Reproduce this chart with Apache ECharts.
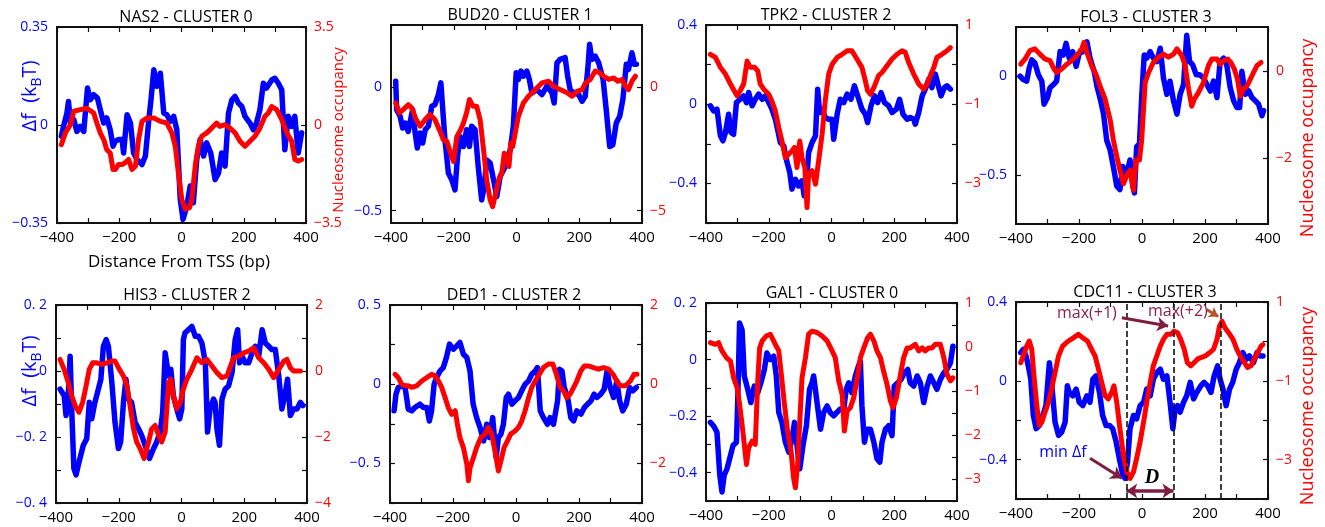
<!DOCTYPE html>
<html>
<head>
<meta charset="utf-8">
<script src="https://cdn.jsdelivr.net/npm/echarts@6/dist/echarts.min.js"></script>
<style>
  html, body { margin: 0; padding: 0; background: #fff; }
  #chart { width: 1325px; height: 527px; }
</style>
</head>
<body>
<div id="chart"></div>
<script>
// ---- gene panels ----
const GENES = ['NAS2', 'BUD20', 'TPK2', 'FOL3', 'HIS3', 'DED1', 'GAL1', 'CDC11'];
const CLUSTERS = [0, 1, 2, 3, 2, 2, 0, 3];

// ---- Δf (blue) and nucleosome occupancy (red) profiles, x = distance from TSS (bp) ----
const NAS2_DF_X = [-386,-379,-368,-363,-357,-346,-336,-325,-314,-302,-293,-282,-270,-261,-250,-240,-229,-220,-213,-202,-191,-186,-175,-164,-154,-143,-127,-116,-105,-98,-89,-79,-68,-57,-47,-36,-25,-15,-4,5,17,28,38,49,60,71,81,94,108,119,129,140,151,162,172,183,194,204,220,231,241,252,263,273,290,300,311,322,332,343,354,364,375,386];
const NAS2_DF_Y = [-0.040,-0.005,0.043,0.084,0.007,0.019,-0.023,-0.005,-0.023,0.132,0.090,0.108,0.096,0.055,0.007,0.025,-0.017,-0.076,-0.058,-0.052,-0.052,-0.100,0.037,0.007,-0.100,-0.123,-0.141,-0.111,0.019,0.090,0.197,0.138,0.185,0.043,0.037,0.013,0.031,-0.017,-0.266,-0.337,-0.289,-0.218,-0.278,-0.123,-0.052,-0.111,-0.064,-0.100,-0.195,-0.171,-0.100,-0.147,0.043,0.090,0.102,0.078,0.066,0.031,0.007,-0.017,0.007,0.055,0.149,0.132,0.161,0.167,0.149,0.126,-0.088,0.031,-0.005,0.031,-0.100,-0.028];
const NAS2_OCC_X = [-386,-373,-357,-346,-325,-304,-282,-272,-261,-250,-240,-229,-220,-213,-202,-191,-181,-170,-159,-148,-138,-127,-111,-89,-68,-47,-31,-20,-10,1,12,26,33,44,54,65,81,97,113,123,140,156,172,188,204,220,236,252,268,279,290,306,322,338,354,364,375,386];
const NAS2_OCC_Y = [-0.70,-0.28,0.01,0.49,0.55,0.60,0.43,0.07,-0.28,-0.52,-0.88,-1.00,-1.59,-1.59,-1.41,-1.41,-1.35,-1.23,-1.59,-1.47,-0.52,0.13,0.25,0.25,0.13,0.07,-0.28,-0.76,-1.71,-2.66,-3.01,-2.95,-2.66,-1.47,-0.76,-0.40,-0.28,-0.11,0.07,-0.05,0.01,-0.11,-0.28,-0.58,-0.76,-0.58,-0.40,-0.11,0.31,0.43,0.66,0.55,0.19,-0.28,-0.58,-1.23,-1.29,-1.23];

const BUD20_DF_X = [-385,-382,-371,-363,-355,-345,-331,-323,-316,-307,-299,-291,-281,-270,-260,-249,-241,-235,-228,-217,-206,-196,-188,-180,-169,-159,-150,-143,-132,-122,-111,-103,-95,-84,-73,-63,-52,-41,-31,-20,-10,-1,6,14,22,33,41,49,65,81,97,113,120,129,139,155,163,171,182,198,209,219,228,233,240,251,262,276,286,297,307,318,329,339,350,357,368,376,382];
const BUD20_DF_Y = [0.023,-0.092,-0.119,-0.166,-0.146,-0.180,-0.092,-0.186,-0.247,-0.186,-0.227,-0.173,-0.159,-0.078,-0.072,-0.031,0.016,-0.092,-0.214,-0.349,-0.376,-0.416,-0.281,-0.200,-0.241,-0.173,-0.241,-0.159,-0.173,-0.322,-0.457,-0.403,-0.295,-0.308,-0.376,-0.443,-0.362,-0.335,-0.308,-0.254,-0.159,0.057,0.030,0.064,0.043,0.064,0.030,-0.024,-0.011,-0.031,0.003,-0.024,-0.065,0.097,0.111,0.118,0.043,-0.011,-0.024,-0.031,-0.058,-0.038,0.084,0.172,0.111,0.124,0.097,0.030,-0.092,-0.241,-0.234,-0.146,-0.119,-0.051,0.091,0.070,0.138,0.091,0.091];
const BUD20_OCC_X = [-385,-373,-361,-345,-334,-320,-307,-291,-276,-260,-246,-233,-222,-210,-201,-190,-178,-169,-159,-150,-139,-127,-116,-105,-95,-84,-76,-66,-57,-47,-39,-31,-24,-18,-12,-4,6,22,38,60,81,102,118,139,161,177,193,209,220,235,251,265,278,294,310,323,336,347,357,368,379];
const BUD20_OCC_Y = [-0.65,-1.05,-0.92,-0.72,-0.85,-1.32,-1.59,-1.32,-1.12,-1.32,-1.73,-2.14,-2.20,-2.68,-3.01,-2.00,-1.73,-1.46,-1.05,-0.51,-0.78,-0.78,-1.32,-2.54,-3.76,-4.57,-4.84,-4.30,-3.76,-3.49,-2.68,-2.81,-3.22,-2.27,-2.41,-1.86,-1.19,-0.65,-0.38,-0.11,0.16,0.23,0.03,-0.11,-0.24,-0.38,-0.18,-0.11,0.16,0.30,0.64,0.57,0.43,0.30,0.36,0.23,0.30,0.03,-0.11,0.23,0.43];

const TPK2_DF_X = [-386,-376,-365,-354,-346,-338,-328,-320,-312,-303,-291,-280,-271,-264,-253,-243,-232,-221,-211,-200,-190,-179,-172,-163,-152,-144,-133,-126,-115,-105,-94,-87,-78,-73,-62,-51,-44,-38,-30,-20,-9,2,7,18,28,39,50,62,73,87,97,108,115,126,137,147,158,169,182,193,207,217,228,241,251,262,267,278,289,299,310,320,331,342,349,360,368,379];
const TPK2_DF_Y = [-0.008,-0.034,-0.025,-0.160,-0.185,-0.143,-0.051,-0.143,-0.152,0.008,0.025,0.042,0.008,0.059,-0.008,0.025,0.051,0.025,0.042,0.008,-0.025,-0.076,-0.126,-0.194,-0.211,-0.278,-0.345,-0.429,-0.379,-0.413,-0.387,-0.463,-0.362,-0.244,-0.194,-0.160,0.076,-0.042,-0.025,-0.067,-0.076,-0.076,-0.177,-0.051,0.025,0.008,0.051,0.025,0.093,0.025,-0.025,-0.051,-0.093,-0.008,0.042,0.008,0.059,0.008,-0.008,-0.042,-0.025,0.025,-0.051,-0.076,-0.067,-0.076,-0.101,-0.042,0.042,0.076,0.126,0.084,0.152,0.084,0.042,0.084,0.093,0.076];
const TPK2_OCC_X = [-386,-370,-354,-338,-322,-310,-301,-291,-280,-269,-259,-245,-235,-227,-216,-200,-190,-179,-168,-158,-147,-136,-126,-118,-110,-101,-94,-85,-78,-73,-62,-51,-41,-30,-20,-9,2,18,34,50,65,81,97,108,115,124,135,150,161,177,193,209,225,235,246,262,278,294,305,315,326,336,352,368,379];
const TPK2_OCC_Y = [0.26,0.18,-0.07,-0.24,-0.49,-0.66,-0.79,-0.66,-0.49,0.09,-0.07,-0.07,-0.16,-0.49,-0.62,-0.75,-0.92,-1.17,-1.59,-1.93,-2.35,-2.26,-2.18,-2.09,-2.60,-1.93,-2.35,-2.60,-3.61,-2.77,-2.68,-3.02,-2.43,-1.76,-0.92,-0.24,0.01,0.18,0.26,0.35,0.35,0.14,-0.07,-0.41,-0.66,-0.75,-0.58,-0.28,-0.20,-0.03,0.14,0.26,0.35,0.31,0.05,-0.24,-0.49,-0.62,-0.49,-0.28,-0.07,0.18,0.26,0.35,0.43];

const FOL3_DF_X = [-387,-377,-366,-358,-350,-340,-329,-318,-311,-300,-292,-281,-271,-260,-250,-241,-231,-220,-209,-199,-188,-175,-165,-152,-142,-131,-122,-112,-101,-91,-80,-70,-61,-48,-38,-29,-24,-17,-8,-1,7,15,26,36,47,58,68,79,89,100,111,121,132,142,151,161,172,183,195,206,217,227,238,248,259,269,280,291,301,310,317,328,339,349,360,370,381,386];
const FOL3_DF_Y = [0,-0.017,-0.025,0.042,0.083,0.067,0.008,-0.025,-0.142,-0.108,-0.058,-0.042,-0.025,0.125,0.108,0.167,0.092,0.125,0.050,0.117,0.125,0.175,0.092,0.025,-0.058,-0.125,-0.192,-0.325,-0.375,-0.458,-0.558,-0.575,-0.458,-0.492,-0.425,-0.558,-0.592,-0.358,-0.342,-0.108,0.108,0.092,0.125,0.092,0.075,0.142,-0.008,-0.092,-0.025,-0.125,-0.192,-0.092,-0.042,0.208,0.075,0.058,0.008,0.008,-0.008,-0.042,-0.075,-0.025,-0.108,0.075,0.092,0.058,-0.058,-0.125,-0.158,-0.158,0.025,-0.092,-0.075,-0.108,-0.125,-0.142,-0.200,-0.175];
const FOL3_OCC_X = [-385,-371,-356,-340,-324,-308,-292,-279,-271,-255,-239,-223,-207,-191,-184,-175,-160,-146,-133,-117,-101,-91,-80,-70,-59,-46,-38,-27,-19,-8,-1,10,21,36,52,68,84,100,111,126,137,148,158,166,179,195,211,222,238,248,259,272,282,293,303,312,322,333,344,354,365,378];
const FOL3_OCC_Y = [0.15,0.27,0.46,0.50,0.38,0.27,0.23,0.04,-0.04,0.04,0.15,0.23,0.35,0.50,0.65,0.42,0.12,-0.08,-0.35,-0.65,-1.12,-1.58,-1.96,-2.27,-2.58,-2.35,-2.27,-2.73,-2.04,-2.04,-1.58,-0.27,-0.04,0.19,0.31,0.38,0.31,0.38,0.50,0.35,0.12,-0.42,-0.81,-0.65,-0.50,-0.27,0.12,0.27,0.27,0.15,0.23,0.27,0.19,0.04,-0.19,-0.58,-0.42,-0.35,-0.19,-0.04,0.12,0.19];

const HIS3_DF_X = [-387,-381,-374,-368,-361,-355,-350,-343,-336,-329,-321,-313,-302,-294,-286,-276,-265,-257,-249,-240,-233,-222,-212,-201,-194,-185,-177,-169,-159,-148,-137,-127,-116,-102,-89,-79,-68,-60,-52,-47,-41,-34,-26,-15,-6,1,6,11,22,33,44,54,65,76,83,91,102,107,113,121,129,139,150,161,171,179,185,193,203,214,225,235,246,257,267,278,288,299,310,320,331,338,347,357,368,379,387];
const HIS3_DF_Y = [-0.055,-0.050,-0.075,-0.135,-0.075,0.045,-0.115,-0.295,-0.315,-0.285,-0.255,-0.225,-0.205,-0.095,-0.145,-0.095,-0.055,-0.025,0.075,0.095,0.075,-0.035,-0.155,-0.235,-0.215,-0.095,-0.025,-0.085,-0.095,-0.155,-0.175,-0.195,-0.225,-0.265,-0.235,-0.215,-0.185,-0.125,0.055,0.055,-0.015,0.005,-0.075,-0.115,-0.145,-0.115,0.095,0.115,0.125,0.135,0.105,0.105,0.085,0.025,-0.185,-0.115,-0.085,-0.095,-0.175,-0.225,-0.085,-0.055,-0.045,-0.005,0.095,0.125,0.025,0.045,0.025,0.025,0.055,0.075,0.045,0.125,0.085,0.075,0.065,0.065,-0.015,-0.115,-0.065,-0.025,-0.135,-0.115,-0.115,-0.095,-0.105];
const HIS3_OCC_X = [-387,-374,-361,-350,-339,-327,-315,-304,-294,-283,-270,-254,-238,-222,-212,-198,-185,-174,-164,-153,-143,-132,-119,-105,-95,-84,-73,-63,-52,-41,-34,-26,-15,-4,6,17,33,49,65,81,97,113,129,145,156,166,182,198,214,230,246,262,278,294,310,326,336,347,357,379];
const HIS3_OCC_Y = [0.35,0.05,-0.35,-0.75,-1.05,-1.25,-0.95,-0.45,0.05,0.25,0.25,0.20,0.25,0.30,0.30,0.05,-0.15,-0.45,-1.05,-1.75,-2.15,-2.35,-2.65,-2.15,-1.75,-1.65,-1.95,-2.15,-1.85,-0.35,-0.25,-0.75,-1.15,-0.95,-0.55,-0.25,0.05,0.40,0.25,0.35,0.15,-0.05,-0.20,-0.15,0.15,0.40,0.45,0.55,0.60,0.70,0.40,0.25,0.05,-0.20,0.05,0.30,0.35,0.10,0,0];

const DED1_DF_X = [-387,-381,-374,-363,-352,-342,-331,-321,-313,-305,-294,-283,-275,-268,-260,-252,-241,-231,-221,-211,-199,-188,-178,-167,-156,-146,-136,-125,-114,-103,-93,-84,-74,-63,-56,-48,-40,-31,-24,-13,-3,8,18,29,40,50,61,68,77,87,100,108,119,132,138,146,153,164,174,183,193,206,217,227,238,248,257,269,280,289,299,310,320,329,339,350,361,371,382];
const DED1_DF_Y = [-0.168,-0.063,-0.021,-0.011,-0.021,-0.158,-0.168,-0.147,-0.137,-0.126,-0.147,-0.147,-0.232,-0.168,0,0.042,0.084,0.105,0.168,0.253,0.221,0.242,0.263,0.189,0.168,0.084,-0.126,-0.211,-0.274,-0.358,-0.253,-0.337,-0.211,-0.463,-0.337,-0.316,-0.253,-0.084,-0.063,-0.126,-0.105,-0.084,-0.042,0,0.021,0.063,0.084,0.105,-0.168,-0.211,-0.253,-0.211,-0.253,-0.105,0.095,0.084,-0.021,-0.084,-0.211,-0.232,-0.168,-0.189,-0.147,-0.126,-0.105,-0.063,-0.084,-0.063,-0.032,0.084,-0.021,-0.084,0.021,-0.105,-0.168,-0.126,-0.021,-0.042,-0.021];
const DED1_OCC_X = [-384,-374,-363,-352,-342,-331,-315,-299,-283,-268,-257,-246,-236,-225,-215,-204,-193,-186,-178,-167,-156,-151,-146,-135,-125,-112,-98,-88,-77,-67,-56,-48,-38,-27,-17,-3,8,18,29,40,50,61,71,87,103,117,128,140,151,161,172,183,193,206,217,230,246,262,278,294,308,320,331,347,363,375,384];
const DED1_OCC_Y = [0.25,0.17,0,-0.04,-0.04,-0.08,-0.04,0.08,0.17,0.25,0.21,0.08,-0.08,-0.34,-0.59,-0.76,-0.67,-1.01,-1.35,-1.60,-2.02,-2.44,-2.11,-1.85,-1.60,-1.35,-1.26,-1.09,-1.26,-1.68,-2.19,-1.94,-1.60,-1.43,-1.26,-1.18,-1.09,-0.93,-0.67,-0.34,-0.08,0.08,0.21,0.42,0.51,0.51,0.25,-0.08,-0.17,-0.34,-0.25,-0.08,0.08,0.34,0.46,0.46,0.42,0.38,0.42,0.38,0.25,0.08,-0.04,-0.04,0.08,0.25,0.25];

const GAL1_DF_X = [-386,-376,-365,-356,-349,-342,-333,-322,-314,-303,-299,-293,-285,-278,-267,-257,-246,-235,-225,-214,-206,-195,-184,-176,-168,-158,-147,-136,-126,-118,-110,-101,-91,-80,-70,-62,-57,-46,-35,-25,-14,-4,7,17,28,39,47,55,65,76,86,92,97,105,113,124,135,145,154,161,172,182,193,200,211,222,232,243,251,262,273,283,294,305,315,326,336,347,358,368,379,387];
const GAL1_DF_Y = [-0.222,-0.234,-0.257,-0.409,-0.468,-0.409,-0.386,-0.339,-0.304,-0.292,-0.152,0.129,0.105,-0.058,-0.105,-0.152,-0.094,-0.117,-0.082,-0.035,0.023,0,0.012,-0.058,-0.187,-0.222,-0.292,-0.327,-0.281,-0.222,-0.304,-0.386,-0.304,-0.234,-0.105,-0.082,-0.058,-0.152,-0.246,-0.187,-0.164,-0.187,-0.199,-0.187,-0.175,-0.175,-0.105,-0.082,-0.117,-0.058,-0.023,-0.006,-0.164,-0.292,-0.246,-0.246,-0.292,-0.351,-0.363,-0.292,-0.246,-0.234,-0.269,-0.094,-0.082,-0.070,-0.047,-0.035,-0.082,-0.094,-0.058,-0.082,-0.152,-0.094,-0.058,-0.082,-0.105,-0.070,-0.047,-0.035,-0.012,0.047];
const GAL1_OCC_X = [-386,-370,-360,-349,-335,-322,-312,-301,-293,-285,-278,-271,-264,-253,-243,-235,-229,-221,-208,-195,-179,-168,-161,-150,-140,-129,-121,-115,-108,-101,-94,-83,-73,-62,-46,-30,-14,2,12,23,34,41,50,60,71,84,92,103,115,124,135,145,156,166,177,188,196,207,220,230,241,251,267,278,289,299,310,320,331,347,358,368,379,387];
const GAL1_OCC_Y = [0.10,0.06,0.10,-0.09,-0.24,-0.32,-0.70,-0.92,-1.30,-1.76,-2.21,-2.67,-2.29,-2.14,-2.21,-0.77,-0.02,0.14,0.25,0.29,0.06,-0.09,-0.55,-1.30,-1.91,-2.36,-2.97,-3.20,-2.67,-1.68,-0.70,-0.24,0.29,0.36,0.33,0.25,0.14,-0.09,-0.24,-0.77,-1.08,-1.91,-1.45,-1.38,-1.15,-0.62,-0.24,-0.02,0.21,0.29,0.14,-0.09,-0.24,-0.55,-0.85,-1.23,-1.38,-1.15,-0.62,-0.24,-0.02,-0.02,0.06,-0.09,-0.02,-0.09,-0.02,-0.02,0.06,0.06,-0.24,-0.62,-0.77,-0.70];

const CDC11_DF_X = [-385,-377,-368,-361,-353,-345,-336,-326,-315,-305,-294,-287,-276,-265,-255,-244,-237,-231,-220,-209,-199,-188,-175,-165,-156,-146,-135,-125,-114,-103,-93,-82,-72,-61,-54,-46,-38,-27,-17,-6,5,15,26,36,47,58,68,79,89,98,105,113,121,132,142,153,164,174,187,197,208,219,229,240,248,257,267,278,288,299,309,320,331,341,354,365,375,384];
const CDC11_DF_Y = [0.143,0.159,0.126,0.076,0.008,-0.176,-0.243,-0.227,-0.176,-0.126,0.092,-0.008,-0.210,-0.277,-0.260,-0.210,-0.025,-0.059,-0.076,-0.042,-0.109,-0.126,-0.076,-0.109,0.008,0.025,-0.059,-0.176,-0.227,-0.227,-0.243,-0.310,-0.394,-0.478,-0.495,-0.411,-0.243,-0.176,-0.193,-0.126,-0.109,-0.042,-0.076,0.008,0.042,0.059,0.008,0.025,-0.109,-0.243,-0.143,-0.126,-0.159,-0.109,-0.076,-0.008,-0.092,-0.059,-0.025,-0.008,-0.025,-0.059,0.025,0.076,0.008,-0.042,-0.126,-0.042,-0.008,0.059,0.092,0.143,0.109,0.126,0.092,0.143,0.126,0.126];
const CDC11_OCC_X = [-385,-377,-366,-358,-350,-343,-334,-326,-318,-308,-297,-287,-276,-265,-252,-234,-218,-202,-188,-173,-160,-149,-138,-128,-117,-107,-96,-89,-80,-70,-59,-48,-38,-27,-17,-6,5,15,26,36,47,58,68,79,92,102,113,123,134,144,155,165,176,187,201,214,227,238,246,254,264,275,289,301,312,325,335,346,356,367,378,384];
const CDC11_OCC_Y = [-0.54,-0.37,-0.12,0.01,-0.20,-0.87,-1.63,-2.13,-2.05,-1.80,-1.55,-1.21,-0.79,-0.37,-0.12,0.01,0.09,0.18,0.09,0.01,-0.20,-0.37,-0.71,-1.04,-1.38,-1.46,-1.29,-1.13,-1.55,-2.22,-2.89,-3.31,-3.48,-3.31,-2.97,-2.55,-2.05,-1.55,-1.04,-0.62,-0.37,-0.12,0.05,0.18,0.18,0.26,0.22,0.05,-0.20,-0.54,-0.62,-0.54,-0.45,-0.41,-0.37,-0.29,-0.20,0.05,0.39,0.51,0.34,0.22,0.05,-0.20,-0.37,-0.54,-0.66,-0.62,-0.45,-0.29,-0.12,-0.08];

// ---- axis ranges, tick positions and tick labels ----
const X_TICKS = [-400, -300, -200, -100, 0, 100, 200, 300, 400];
const X_LABELS = [-400, -200, 0, 200, 400];

const DF_RANGES = [[-0.35, 0.35], [-0.55, 0.25], [-0.6, 0.4], [-0.75, 0.25], [-0.4, 0.2], [-0.75, 0.5], [-0.5, 0.2], [-0.6, 0.4]];
const OCC_RANGES = [[-3.5, 3.5], [-5.5, 2.5], [-4, 1], [-3.5, 1], [-4, 2], [-3, 2], [-3.5, 1], [-4, 1]];

const DF_TICKS = [
  [-0.35, 0, 0.35], [-0.5, 0], [-0.6, -0.4, -0.2, 0, 0.2, 0.4], [-0.5, 0],
  [-0.4, -0.3, -0.2, -0.1, 0, 0.1, 0.2], [-0.75, -0.5, -0.25, 0, 0.25, 0.5],
  [-0.5, -0.4, -0.3, -0.2, -0.1, 0, 0.1, 0.2], [-0.6, -0.4, -0.2, 0, 0.2, 0.4]
];
const DF_LABELS = [
  [[-0.35, '\u22120.35'], [0, '0'], [0.35, '0.35']],
  [[-0.5, '\u22120.5'], [0, '0']],
  [[-0.4, '\u22120.4'], [0, '0'], [0.4, '0.4']],
  [[-0.5, '\u22120.5'], [0, '0']],
  [[-0.4, '\u22120. 4'], [-0.2, '\u22120. 2'], [0, '0'], [0.2, '0. 2']],
  [[-0.5, '\u22120. 5'], [0, '0'], [0.5, '0. 5']],
  [[-0.4, '\u22120.4'], [-0.2, '\u22120.2'], [0, '0'], [0.2, '0. 2']],
  [[-0.4, '\u22120.4'], [0, '0'], [0.4, '0.4']]
];
const OCC_TICKS = [
  [-3.5, 0, 3.5], [-5, 0], [-4, -3, -2, -1, 0, 1], [-2, 0],
  [-4, -3, -2, -1, 0, 1, 2], [-3, -2, -1, 0, 1, 2],
  [-3.5, -3, -2.5, -2, -1.5, -1, -0.5, 0, 0.5, 1], [-4, -3, -2, -1, 0, 1]
];
const OCC_LABELS = [
  [[-3.5, '\u22123.5'], [0, '0'], [3.5, '3.5']],
  [[-5, '\u22125'], [0, '0']],
  [[-3, '\u22123'], [-1, '\u22121'], [1, '1']],
  [[-2, '\u22122'], [0, '0']],
  [[-4, '\u22124'], [-2, '\u22122'], [0, '0'], [2, '2']],
  [[-2, '\u22122'], [0, '0'], [2, '2']],
  [[-3, '\u22123'], [-2, '\u22122'], [-1, '\u22121'], [0, '0'], [1, '1']],
  [[-3, '\u22123'], [-1, '\u22121'], [1, '1']]
];

// ---- CDC11 annotation: marked positions (bp) ----
const CDC11_MARKS_X = [-50, 100, 250];

// ---- layout (pixels) ----
const BOXES = [
  [57, 27, 249, 196], [391, 25, 251, 198], [706, 25, 251, 198], [1016, 27, 252, 197],
  [56, 305, 251, 198], [390, 305, 252, 198], [706, 303, 251, 198], [1016, 302, 252, 197]
];
const TITLE_CX = [181, 515, 821, 1141, 182, 509, 827, 1140];

const FONT = "'Open Sans', 'DejaVu Sans', sans-serif";
const BLUE = '#0000ff';
const RED = '#ff0000';
const AXIS = '#111';

const SERIES_DATA = [
  [NAS2_DF_X, NAS2_DF_Y, NAS2_OCC_X, NAS2_OCC_Y],
  [BUD20_DF_X, BUD20_DF_Y, BUD20_OCC_X, BUD20_OCC_Y],
  [TPK2_DF_X, TPK2_DF_Y, TPK2_OCC_X, TPK2_OCC_Y],
  [FOL3_DF_X, FOL3_DF_Y, FOL3_OCC_X, FOL3_OCC_Y],
  [HIS3_DF_X, HIS3_DF_Y, HIS3_OCC_X, HIS3_OCC_Y],
  [DED1_DF_X, DED1_DF_Y, DED1_OCC_X, DED1_OCC_Y],
  [GAL1_DF_X, GAL1_DF_Y, GAL1_OCC_X, GAL1_OCC_Y],
  [CDC11_DF_X, CDC11_DF_Y, CDC11_OCC_X, CDC11_OCC_Y]
];

const zip = (xs, ys) => xs.slice(0, Math.min(xs.length, ys.length)).map((x, k) => [x, ys[k]]);
const labelFor = (pairs, v) => {
  const hit = pairs.find(p => Math.abs(p[0] - v) < 1e-9);
  return hit ? hit[1] : '';
};
const signed = v => (v < 0 ? '\u2212' + (-v) : String(v));

const option = {
  animation: false,
  backgroundColor: '#fff',
  title: [], grid: [], xAxis: [], yAxis: [], series: [], graphic: []
};

GENES.forEach((gene, i) => {
  const [left, top, width, height] = BOXES[i];
  option.grid.push({
    left, top, width, height, show: true,
    borderColor: AXIS, borderWidth: 1.8, backgroundColor: '#fff'
  });
  option.title.push({
    text: gene + ' - CLUSTER ' + CLUSTERS[i],
    left: TITLE_CX[i], top: top - 23, textAlign: 'center',
    textStyle: { fontFamily: FONT, fontSize: 16, fontWeight: 'normal', color: '#000' }
  });

  const xCommon = {
    type: 'value', gridIndex: i, min: -400, max: 400,
    splitLine: { show: false },
    axisLine: { show: true, onZero: false, lineStyle: { color: AXIS, width: 1.8 } },
    axisTick: { show: true, inside: true, length: 5, customValues: X_TICKS, lineStyle: { color: AXIS, width: 1.2 } }
  };
  option.xAxis.push(Object.assign({}, xCommon, {
    position: 'bottom',
    axisLabel: {
      show: true, customValues: X_LABELS, formatter: v => signed(v),
      color: '#000', fontFamily: FONT, fontSize: 15, margin: 7
    }
  }));
  option.xAxis.push(Object.assign({}, xCommon, { position: 'top', axisLabel: { show: false } }));

  const yCommon = {
    type: 'value', gridIndex: i, splitLine: { show: false },
    axisLine: { show: true, onZero: false, lineStyle: { color: AXIS, width: 1.8 } }
  };
  option.yAxis.push(Object.assign({}, yCommon, {
    position: 'left', min: DF_RANGES[i][0], max: DF_RANGES[i][1],
    axisTick: { show: true, inside: true, length: 5, customValues: DF_TICKS[i], lineStyle: { color: AXIS, width: 1.2 } },
    axisLabel: {
      show: true, customValues: DF_LABELS[i].map(p => p[0]),
      formatter: v => labelFor(DF_LABELS[i], v),
      color: BLUE, fontFamily: FONT, fontSize: 14, margin: 9
    }
  }));
  option.yAxis.push(Object.assign({}, yCommon, {
    position: 'right', min: OCC_RANGES[i][0], max: OCC_RANGES[i][1],
    axisTick: { show: true, inside: true, length: 5, customValues: OCC_TICKS[i], lineStyle: { color: AXIS, width: 1.2 } },
    axisLabel: {
      show: true, customValues: OCC_LABELS[i].map(p => p[0]),
      formatter: v => labelFor(OCC_LABELS[i], v),
      color: RED, fontFamily: FONT, fontSize: 14, margin: 8
    }
  }));

  const [dfX, dfY, occX, occY] = SERIES_DATA[i];
  option.series.push({
    name: gene + ' \u0394f', type: 'line', xAxisIndex: 2 * i, yAxisIndex: 2 * i,
    data: zip(dfX, dfY), showSymbol: false, silent: true, z: 2,
    lineStyle: { color: BLUE, width: 5.5, join: 'round', cap: 'round' }
  });
  option.series.push({
    name: gene + ' occupancy', type: 'line', xAxisIndex: 2 * i, yAxisIndex: 2 * i + 1,
    data: zip(occX, occY), showSymbol: false, silent: true, z: 3,
    lineStyle: { color: RED, width: 5, join: 'round', cap: 'round' }
  });
});

// ---- CDC11 annotations ----
const MAROON = '#7f1d40';
const dfSeries = option.series[14];
const occSeries = option.series[15];

dfSeries.markLine = {
  silent: true, symbol: ['none', 'none'], symbolSize: 11, animation: false,
  label: { show: false },
  data: [
    [{ coord: [-165, -0.393], symbol: 'none', lineStyle: { color: MAROON, width: 3, type: 'solid' } },
     { coord: [-64, -0.495], symbol: 'arrow' }],
    [{ coord: [-50, -0.559], symbol: 'arrow', lineStyle: { color: MAROON, width: 3.5, type: 'solid' } },
     { coord: [100, -0.559], symbol: 'arrow' }]
  ]
};
dfSeries.markPoint = {
  silent: true, symbol: 'circle', symbolSize: 1, itemStyle: { color: 'rgba(0,0,0,0)' },
  data: [
    { coord: [-251, -0.366], label: { show: true, position: 'inside', formatter: 'min \u0394f', color: BLUE, fontFamily: FONT, fontSize: 16 } },
    { coord: [32, -0.493], label: { show: true, position: 'inside', formatter: 'D', color: '#000', fontFamily: "'Liberation Serif', 'DejaVu Serif', serif", fontStyle: 'italic', fontWeight: 'bold', fontSize: 20 } }
  ]
};
occSeries.markLine = {
  silent: true, symbol: ['none', 'none'], symbolSize: 11, animation: false,
  label: { show: false },
  lineStyle: { color: '#111', width: 1.6, type: [6, 3] },
  data: CDC11_MARKS_X.map(x => ({ xAxis: x })).concat([
    [{ coord: [-64, 0.60], symbol: 'none', lineStyle: { color: MAROON, width: 3, type: 'solid' } },
     { coord: [83, 0.39], symbol: 'arrow' }],
    [{ coord: [205, 0.81], symbol: 'none', lineStyle: { color: '#b5532c', width: 3, type: 'solid' } },
     { coord: [242, 0.63], symbol: 'arrow', symbolSize: 9 }]
  ])
};
occSeries.markPoint = {
  silent: true, symbol: 'circle', symbolSize: 1, itemStyle: { color: 'rgba(0,0,0,0)' },
  data: [
    { coord: [-175, 0.72], label: { show: true, position: 'inside', formatter: 'max(+1)', color: '#8b1f4b', fontFamily: FONT, fontSize: 16 } },
    { coord: [114, 0.75], label: { show: true, position: 'inside', formatter: 'max(+2)', color: '#8b1f4b', fontFamily: FONT, fontSize: 16 } }
  ]
};

// ---- axis titles ----
const dfTitle = (x, y) => ({
  type: 'text', x, y, rotation: Math.PI / 2, silent: true,
  style: {
    text: '\u0394f  (k{s|B}T)', fill: BLUE, align: 'center', verticalAlign: 'middle',
    font: '20px ' + FONT,
    rich: { s: { fontSize: 14, fontFamily: FONT, fill: BLUE, verticalAlign: 'bottom', lineHeight: 28 } }
  }
});
const occTitle = (x, y, size) => ({
  type: 'text', x, y, rotation: Math.PI / 2, silent: true,
  style: { text: 'Nucleosome occupancy', fill: RED, align: 'center', verticalAlign: 'middle', font: size + 'px ' + FONT }
});
option.graphic = [
  dfTitle(30, 96),
  dfTitle(30, 371),
  {
    type: 'text', x: 179, y: 262, silent: true,
    style: { text: 'Distance From TSS (bp)', fill: '#000', align: 'center', verticalAlign: 'middle', font: '17px ' + FONT }
  },
  occTitle(339, 130, 15),
  occTitle(1308, 138, 18),
  occTitle(1308, 406, 18)
];

const chart = echarts.init(document.getElementById('chart'), null, { renderer: 'canvas' });
chart.setOption(option);
</script>
</body>
</html>
